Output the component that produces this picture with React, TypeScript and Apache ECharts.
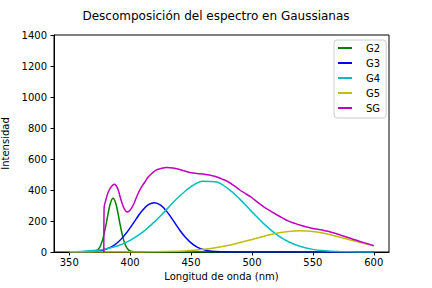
import React, { useEffect, useRef } from "react";
import * as echarts from "echarts";

const titleText = "Descomposición del espectro en Gaussianas";
const xName = "Longitud de onda (nm)";
const yName = "Intensidad";
const xTicks = [350, 400, 450, 500, 550, 600];
const seriesNames = ["G2", "G3", "G4", "G5", "SG"];
const seriesColors = ["#008000", "#0000ff", "#00bfbf", "#bfbf00", "#bf00bf"];

const g2Wave = [350, 366, 370, 374, 376, 378, 380, 382, 384, 386, 388, 390, 392, 394, 396, 398, 400, 403, 406, 600];
const g2Vals = [0, 0, 2, 19, 47, 96, 168, 251, 319, 346, 319, 251, 168, 96, 47, 19, 7, 1, 0, 0];

const g3Wave = [350, 360, 370, 375, 380, 385, 390, 395, 400, 405, 410, 415, 420, 425, 430, 435, 440, 445, 450, 455, 460, 465, 470, 480, 490, 600];
const g3Vals = [0, 0.5, 3, 8, 18, 35, 63, 104, 156, 214, 268, 305, 318, 302, 262, 207, 149, 98, 59, 32, 16, 7, 3, 0.4, 0, 0];

const g4Wave = [350, 360, 370, 380, 390, 400, 410, 420, 430, 440, 450, 460, 470, 480, 490, 500, 510, 520, 530, 540, 550, 560, 570, 580, 590, 600];
const g4Vals = [1.4, 4, 9, 20, 40, 75, 126, 195, 275, 356, 422, 457, 453, 410, 341, 259, 180, 114, 66, 35, 17, 8, 3, 1, 0.4, 0.1];

const g5Wave = [350, 400, 420, 440, 450, 460, 470, 480, 490, 500, 510, 520, 530, 540, 550, 560, 570, 580, 590, 600];
const g5Vals = [0, 0.2, 1.2, 5, 9.5, 17, 27, 42, 61, 81, 102, 121, 133, 137, 132, 119, 100, 79, 59, 40];

const sgWave = [378.4, 378.6, 380, 382, 384, 386, 387, 388, 390, 392, 394, 396, 397.5, 399, 401, 403, 406, 409, 412, 415, 418, 421, 425, 430, 435, 440, 445, 450, 455, 460, 465, 470, 475, 480, 485, 490, 495, 500, 505, 510, 515, 520, 525, 530, 535, 540, 545, 550, 555, 560, 565, 570, 575, 580, 585, 590, 595, 600];
const sgVals = [0, 280, 335, 385, 415, 433, 437, 434, 405, 350, 300, 268, 258, 262, 282, 310, 368, 415, 450, 485, 508, 527, 538, 545, 542, 534, 522, 512, 507, 503, 497, 487, 472, 455, 430, 400, 375, 350, 318, 290, 265, 242, 220, 199, 185, 172, 161, 152, 145, 137, 128, 116, 103, 90, 77, 65, 53, 41];

const waves = [g2Wave, g3Wave, g4Wave, g5Wave, sgWave];
const vals = [g2Vals, g3Vals, g4Vals, g5Vals, sgVals];

export default function App() {
  const ref = useRef<HTMLDivElement>(null);
  useEffect(() => {
    document.body.style.margin = "0";
    if (!ref.current) return;
    const chart = echarts.init(ref.current, null, { renderer: "svg" });
    const font = "DejaVu Sans";
    chart.setOption({
      animation: false,
      backgroundColor: "#ffffff",
      textStyle: { fontFamily: font, color: "#000" },
      title: {
        text: titleText,
        left: "center",
        top: 5,
        textStyle: { fontFamily: font, fontSize: 12, fontWeight: "normal", color: "#000" },
      },
      grid: {
        left: 54,
        right: 43,
        top: 35,
        bottom: 36,
        containLabel: false,
        outerBoundsMode: "none",
        show: true,
        borderColor: "#000",
        borderWidth: 1,
        backgroundColor: "#fff",
      },
      legend: {
        data: seriesNames,
        orient: "vertical",
        left: 334,
        top: 40,
        itemWidth: 14,
        itemHeight: 10,
        itemGap: 5,
        padding: [3, 6, 5, 3],
        borderColor: "#cccccc",
        borderWidth: 1,
        borderRadius: 3,
        backgroundColor: "rgba(255,255,255,0.8)",
        itemStyle: { opacity: 0 },
        textStyle: { fontFamily: font, fontSize: 10, color: "#000", padding: [0, 0, 0, 9] },
      },
      xAxis: {
        type: "value",
        min: 337.5,
        max: 612.5,
        name: xName,
        nameLocation: "middle",
        nameGap: 19,
        nameTextStyle: { fontFamily: font, fontSize: 10, color: "#000" },
        axisLine: { show: true, onZero: false, lineStyle: { color: "#000", width: 1 } },
        axisTick: { show: true, length: 3.5, customValues: xTicks, lineStyle: { color: "#000", width: 1 } },
        axisLabel: { customValues: xTicks, fontFamily: font, fontSize: 10, color: "#000", margin: 5 },
        splitLine: { show: false },
      },
      yAxis: {
        type: "value",
        min: 0,
        max: 1400,
        interval: 200,
        name: yName,
        nameLocation: "middle",
        nameGap: 30,
        nameTextStyle: { fontFamily: font, fontSize: 10, color: "#000" },
        axisLine: { show: true, lineStyle: { color: "#000", width: 1 } },
        axisTick: { show: true, length: 3.5, lineStyle: { color: "#000", width: 1 } },
        axisLabel: {
          fontFamily: font,
          fontSize: 10,
          color: "#000",
          margin: 7,
          formatter: (v: number) => String(v),
        },
        splitLine: { show: false },
      },
      series: seriesNames.map((name, i) => ({
        name,
        type: "line",
        data: waves[i].map((w, j) => [w, vals[i][j]]),
        smooth: 0.4,
        symbol: "none",
        showSymbol: false,
        color: seriesColors[i],
        lineStyle: { color: seriesColors[i], width: 1.5 },
        z: 2 + i,
      })),
    });
    return () => chart.dispose();
  }, []);
  return <div ref={ref} style={{ width: 432, height: 288 }} />;
}
